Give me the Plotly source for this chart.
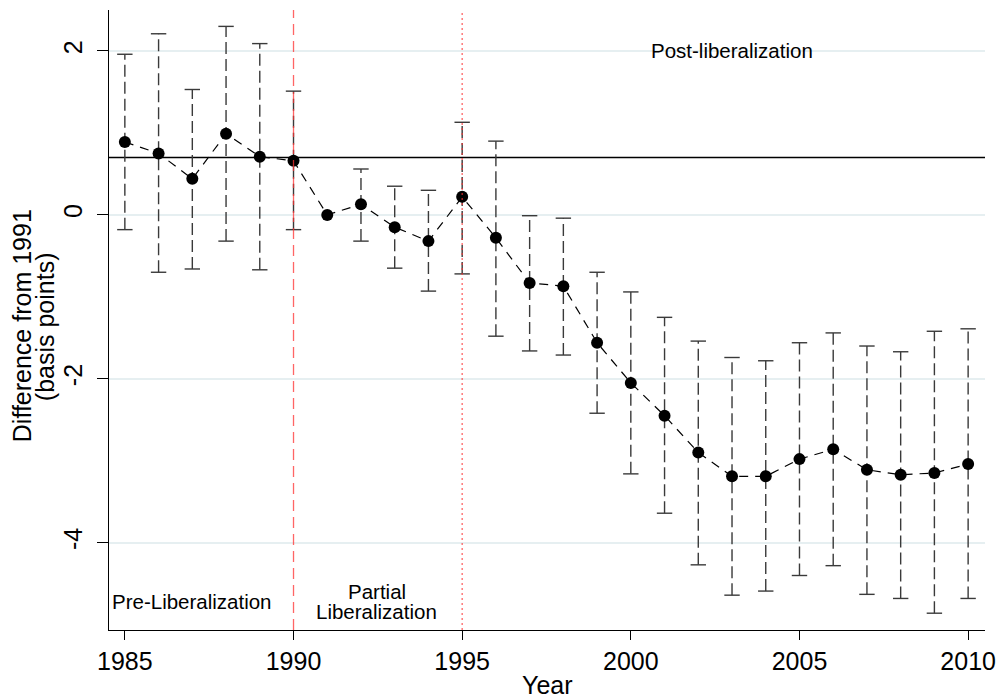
import plotly.graph_objects as go

# event-study estimates, difference from 1991 (basis points)
years = [1985, 1986, 1987, 1988, 1989, 1990, 1991, 1992, 1993, 1994, 1995, 1996, 1997,
         1998, 1999, 2000, 2001, 2002, 2003, 2004, 2005, 2006, 2007, 2008, 2009, 2010]
coef = [0.89, 0.75, 0.44, 0.99, 0.71, 0.66, 0.0, 0.13, -0.15, -0.32, 0.22, -0.28, -0.83,
        -0.87, -1.56, -2.05, -2.45, -2.90, -3.19, -3.19, -2.98, -2.86, -3.11, -3.17, -3.15, -3.04]
ci_hi = [1.96, 2.21, 1.53, 2.30, 2.09, 1.51, None, 0.56, 0.35, 0.30, 1.13, 0.90, -0.01,
         -0.04, -0.70, -0.94, -1.25, -1.54, -1.74, -1.78, -1.56, -1.44, -1.60, -1.67, -1.42, -1.39]
ci_lo = [-0.18, -0.70, -0.66, -0.32, -0.67, -0.18, None, -0.32, -0.65, -0.93, -0.72, -1.48, -1.66,
         -1.71, -2.42, -3.16, -3.64, -4.27, -4.64, -4.59, -4.40, -4.28, -4.63, -4.68, -4.86, -4.68]

ref_level = 0.70
break_years = [1990, 1995]
x_ticks = [1985, 1990, 1995, 2000, 2005, 2010]
y_ticks = [-4, -2, 0, 2]
y_tick_labels = ["-4", "-2", "0", "2"]

font = "Arial, Liberation Sans, sans-serif"
bar_col = "#3a3a3a"

# dashed whiskers as separate segments
wx, wy = [], []
cx, cy = [], []
for yr, lo, hi in zip(years, ci_lo, ci_hi):
    if lo is None:
        continue
    wx += [yr, yr, None]
    wy += [lo, hi, None]
    cx += [yr, yr]
    cy += [lo, hi]

fig = go.Figure()

fig.add_trace(go.Scatter(
    x=wx, y=wy, mode="lines",
    line=dict(color=bar_col, width=1.4, dash="12px,5px"),
    hoverinfo="skip", showlegend=False,
))
fig.add_trace(go.Scatter(
    x=cx, y=cy, mode="markers",
    marker=dict(symbol="line-ew-open", size=11, color=bar_col,
                line=dict(color=bar_col, width=1.4)),
    hoverinfo="skip", showlegend=False,
))
fig.add_trace(go.Scatter(
    x=years, y=coef, mode="lines+markers",
    line=dict(color="black", width=1.2, dash="9px,7px"),
    marker=dict(color="black", size=12),
    showlegend=False,
))

# reference line and period breaks
fig.add_hline(y=ref_level, line=dict(color="black", width=1.3), layer="below")
fig.add_vline(x=break_years[0], line=dict(color="rgba(255,50,50,0.75)", width=1.3, dash="11px,6px"))
fig.add_vline(x=break_years[1], line=dict(color="rgba(255,50,50,0.75)", width=1.3, dash="2px,3px"))

ann = dict(showarrow=False, font=dict(family=font, size=20.5, color="black"))
fig.add_annotation(x=2003, y=2.0, text="Post-liberalization", **ann)
fig.add_annotation(x=1987, y=-4.72, text="Pre-Liberalization", **ann)
fig.add_annotation(x=1992.47, y=-4.6, text="Partial", **ann)
fig.add_annotation(x=1992.47, y=-4.835, text="Liberalization", **ann)

# axis titles as annotations (tight two-line y title)
ttl = dict(showarrow=False, xref="paper", yref="paper", xanchor="center", yanchor="middle",
           font=dict(family=font, size=25, color="black"))
fig.add_annotation(x=-0.0993, y=0.49, textangle=-90, text="Difference from 1991", **ttl)
fig.add_annotation(x=-0.0731, y=0.49, textangle=-90, text="(basis points)", **ttl)
fig.add_annotation(x=0.5, y=-0.0887, text="Year", **ttl)

fig.update_layout(
    width=1000, height=698,
    margin=dict(l=109, r=15, t=10, b=68),
    plot_bgcolor="white", paper_bgcolor="white",
    font=dict(family=font, size=25, color="black"),
    xaxis=dict(
        range=[1984.53, 2010.5], tickvals=x_ticks, automargin=False,
        showgrid=False, zeroline=False,
        showline=True, linecolor="black", linewidth=1.3,
        ticks="outside", ticklen=9, tickcolor="black", tickwidth=1.3,
    ),
    yaxis=dict(
        range=[-5.065, 2.5], tickvals=y_ticks, ticktext=y_tick_labels,
        tickangle=-90, automargin=False, ticklabelstandoff=5,
        showgrid=True, gridcolor="#e6eff1", gridwidth=2, zeroline=False,
        showline=True, linecolor="black", linewidth=1.3,
        ticks="outside", ticklen=11, tickcolor="black", tickwidth=1.3,
    ),
)

# drop the default page margin so the 1000x698 figure sits at the window origin
fig.write_html(
    "out.html",
    config={"displayModeBar": False},
    post_script="document.body.style.margin='0';document.body.style.overflow='hidden';",
)
